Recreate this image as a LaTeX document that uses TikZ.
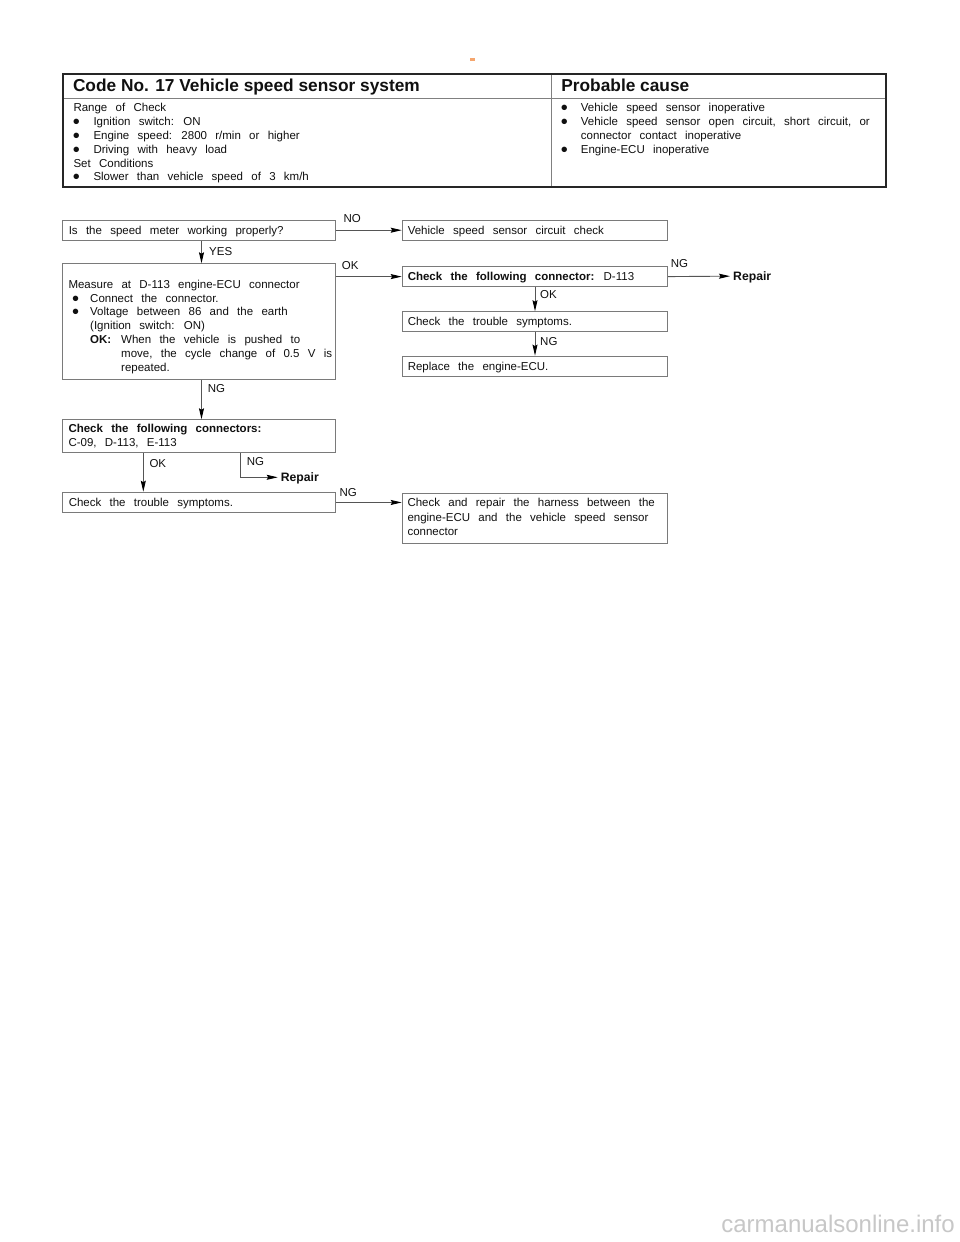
\documentclass[tikz,border=0pt]{standalone}
\usepackage{fontspec}
\setmainfont{Liberation Sans}[WordSpace=2.6]
\newfontfamily\hdfont{Liberation Sans}
\usetikzlibrary{arrows.meta}
\definecolor{boxgray}{HTML}{7A7A7A}
\definecolor{linegray}{HTML}{555555}
\definecolor{txt}{HTML}{101010}
\definecolor{dashor}{HTML}{F5A66E}
\newcommand\bsz{\fontsize{11.5}{13.8}\selectfont}
\newcommand\bul{\raisebox{-3pt}{\fontsize{20}{13.8}\selectfont\hspace*{-0.6pt}\textbullet}}
\newcommand\lfill[1]{\makebox[260.7pt][l]{#1}}
\newcommand\rfill[1]{\makebox[254.3pt][l]{#1}}
\tikzset{
  flowbox/.style={draw=boxgray, line width=0.9pt, fill=white, rectangle, anchor=north west},
  lbox/.style={flowbox, minimum width=272.7pt, inner xsep=6pt, inner ysep=0pt, text height=8.3pt, text depth=0pt, font=\bsz},
  rbox/.style={flowbox, minimum width=265.5pt, inner xsep=5.6pt, inner ysep=0pt, text height=8.3pt, text depth=0pt, font=\bsz},
  mtext/.style={anchor=north west, inner sep=0pt, align=left, font=\bsz},
  hdr/.style={anchor=base west, inner sep=0pt, font=\hdfont\bfseries\fontsize{17.3}{20}\selectfont},
  lbl/.style={anchor=base west, inner sep=0pt, font=\bsz},
  repair/.style={anchor=west, inner xsep=3pt, inner ysep=0pt, text height=8.7pt, text depth=0pt, font=\bfseries\fontsize{12.2}{14}\selectfont},
  conn/.style={draw=linegray, line width=0.9pt, -{Stealth[length=11pt,width=5pt,inset=1.5pt,color=black]}}
}
\begin{document}
\begin{tikzpicture}[x=1pt,y=-1pt, every node/.style={text=txt}]
\useasboundingbox (0,0) rectangle (960,1242);
\fill[white] (0,0) rectangle (960,1242);

% small orange dash
\fill[dashor] (470,58.3) rectangle (475.3,60.8);

% table
\draw[black!50, line width=0.9pt] (62.7,98.7) -- (886,98.7);
\draw[black!50, line width=0.9pt] (551.7,74.3) -- (551.7,187.3);
\draw[black!85, line width=2pt] (62.7,74.3) rectangle (886,187.3);

\node[hdr] (h1) at (72.8,91.5) {Code No. 17 Vehicle speed sensor system};
\node[hdr] (h2) at (561.2,91.5) {Probable cause};

\node[mtext] (rc) at (73.3,101.7) {\rule{0pt}{10pt}Range of Check\\
\makebox[20pt][l]{\bul}Ignition switch: ON\\
\makebox[20pt][l]{\bul}Engine speed: 2800 r/min or higher\\
\makebox[20pt][l]{\bul}Driving with heavy load\\
Set Conditions\\
\makebox[20pt][l]{\bul}Slower than vehicle speed of 3 km/h};

\node[mtext] (pc) at (561.2,101.7) {\rule{0pt}{10pt}\makebox[19.5pt][l]{\bul}Vehicle speed sensor inoperative\\
\makebox[19.5pt][l]{\bul}Vehicle speed sensor open circuit, short circuit, or\\
\hspace*{19.5pt}connector contact inoperative\\
\makebox[19.5pt][l]{\bul}Engine-ECU inoperative};

% flow boxes, left column
\node[lbox, minimum height=20.5pt] (B1) at (62.3,219.5) {\lfill{Is the speed meter working properly?}};
\node[lbox, minimum height=115.7pt] (B2) at (62.3,263.3) {\lfill{}};
\node[mtext] (B2t) at (68.3,278) {\rule{0pt}{10pt}Measure at D-113 engine-ECU connector\\
\hspace*{4.2pt}\makebox[17.5pt][l]{\bul}Connect the connector.\\
\hspace*{4.2pt}\makebox[17.5pt][l]{\bul}Voltage between 86 and the earth\\
\hspace*{21.7pt}(Ignition switch: ON)\\
\hspace*{21.7pt}\makebox[31pt][l]{\textbf{OK:}}When the vehicle is pushed to\\
\hspace*{52.7pt}move, the cycle change of 0.5 V is\\
\hspace*{52.7pt}repeated.};
\node[lbox, minimum height=33pt] (B3) at (62.3,419.3) {\lfill{}};
\node[mtext] (B3t) at (68.3,422.3) {\rule{0pt}{10pt}\textbf{Check the following connectors:}\\
C-09, D-113, E-113};
\node[lbox, minimum height=20.6pt] (B4) at (62.3,491.7) {\lfill{Check the trouble symptoms.}};

% flow boxes, right column
\node[rbox, minimum height=20.5pt] (R1) at (401.7,219.5) {\rfill{Vehicle speed sensor circuit check}};
\node[rbox, minimum height=19.7pt] (R2) at (401.7,266.3) {\rfill{\textbf{Check the following connector:} D-113}};
\node[rbox, minimum height=19.8pt] (R3) at (401.7,311.2) {\rfill{Check the trouble symptoms.}};
\node[rbox, minimum height=20pt] (R4) at (401.7,355.6) {\rfill{Replace the engine-ECU.}};
\node[rbox, minimum height=50.6pt] (R5) at (401.7,492.7) {\rfill{}};
\node[mtext, font=\fontsize{11.5}{14.1}\selectfont] (R5t) at (407.3,496.7) {\rule{0pt}{10pt}Check and repair the harness between the\\
engine-ECU and the vehicle speed sensor\\
connector};

\node[repair] (P1) at (730,276.15) {Repair};
\node[repair] (P2) at (277.7,477.3) {Repair};

% connector columns
\coordinate (xa) at (201.5,0);
\coordinate (xb) at (143.3,0);
\coordinate (xc) at (240.7,0);
\coordinate (xd) at (535,0);

\draw[conn] (B1.south -| xa) -- (B2.north -| xa);
\draw[conn] (B1.east) -- (R1.west);
\draw[conn] (B2.east |- R2.west) -- (R2.west);
\draw[conn] (R2.east) -- (P1.west);
\draw[conn] (R2.south -| xd) -- (R3.north -| xd);
\draw[conn] (R3.south -| xd) -- (R4.north -| xd);
\draw[conn] (B2.south -| xa) -- (B3.north -| xa);
\draw[conn] (B3.south -| xb) -- (B4.north -| xb);
\draw[conn] (B3.south -| xc) |- (P2.west);
\draw[conn] (B4.east) -- (B4.east -| R5.west);

% labels
\node[lbl] (lyes) at (209,255) {YES};
\node[lbl] (lno) at (343.3,222.7) {NO};
\node[lbl] (lok1) at (341.7,269.3) {OK};
\node[lbl] (lng1) at (670.7,267.7) {NG};
\node[lbl] (lok2) at (540,298.5) {OK};
\node[lbl] (lng2) at (540,345) {NG};
\node[lbl] (lng3) at (207.7,392.3) {NG};
\node[lbl] (lok3) at (149.3,467.3) {OK};
\node[lbl] (lng4) at (246.7,465.7) {NG};
\node[lbl] (lng5) at (339.3,496) {NG};

% watermark
\node[anchor=base east, inner sep=0pt, font=\fontsize{24}{24}\selectfont, text=black!22] (wm) at (955,1232) {carmanualsonline.info};
\end{tikzpicture}
\end{document}
